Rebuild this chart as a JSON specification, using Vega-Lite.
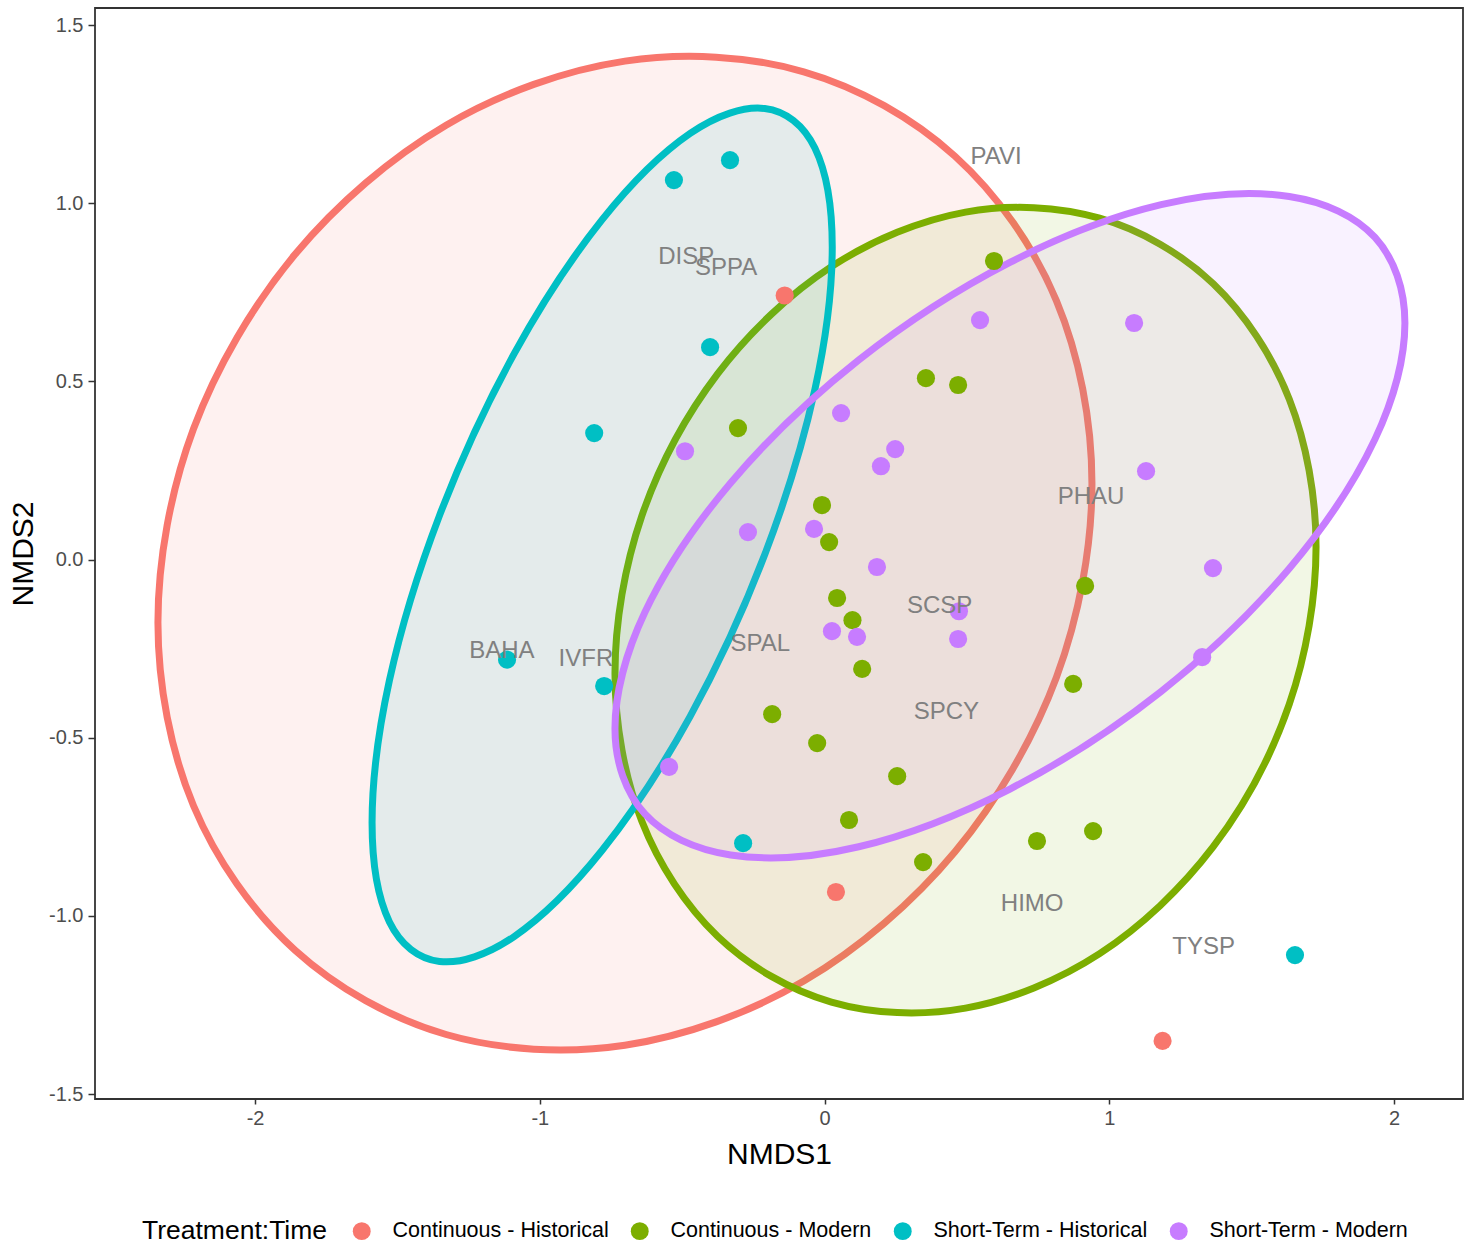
{
  "$schema": "https://vega.github.io/schema/vega-lite/v6.json",
  "autosize": {"type": "none"},
  "padding": {"left": 95, "top": 8, "right": 10, "bottom": 145},
  "width": 1368,
  "height": 1091,
  "background": "white",
  "config": {
    "font": "Liberation Sans",
    "view": {"stroke": "#333333", "strokeWidth": 1.8}
  },
  "datasets": {
    "ell": [
      {"g": "Continuous - Historical", "i": 0, "x": 0.939, "y": 0.213},
      {"g": "Continuous - Historical", "i": 1, "x": 0.814, "y": 0.727},
      {"g": "Continuous - Historical", "i": 2, "x": 0.458, "y": 1.132},
      {"g": "Continuous - Historical", "i": 3, "x": -0.073, "y": 1.369},
      {"g": "Continuous - Historical", "i": 4, "x": -0.701, "y": 1.399},
      {"g": "Continuous - Historical", "i": 5, "x": -1.329, "y": 1.219},
      {"g": "Continuous - Historical", "i": 6, "x": -1.860, "y": 0.856},
      {"g": "Continuous - Historical", "i": 7, "x": -2.216, "y": 0.367},
      {"g": "Continuous - Historical", "i": 8, "x": -2.341, "y": -0.177},
      {"g": "Continuous - Historical", "i": 9, "x": -2.216, "y": -0.691},
      {"g": "Continuous - Historical", "i": 10, "x": -1.860, "y": -1.096},
      {"g": "Continuous - Historical", "i": 11, "x": -1.329, "y": -1.333},
      {"g": "Continuous - Historical", "i": 12, "x": -0.701, "y": -1.363},
      {"g": "Continuous - Historical", "i": 13, "x": -0.073, "y": -1.183},
      {"g": "Continuous - Historical", "i": 14, "x": 0.458, "y": -0.820},
      {"g": "Continuous - Historical", "i": 15, "x": 0.814, "y": -0.331},
      {"g": "Continuous - Modern", "i": 0, "x": 1.726, "y": 0.036},
      {"g": "Continuous - Modern", "i": 1, "x": 1.632, "y": 0.450},
      {"g": "Continuous - Modern", "i": 2, "x": 1.365, "y": 0.774},
      {"g": "Continuous - Modern", "i": 3, "x": 0.966, "y": 0.958},
      {"g": "Continuous - Modern", "i": 4, "x": 0.495, "y": 0.975},
      {"g": "Continuous - Modern", "i": 5, "x": 0.024, "y": 0.822},
      {"g": "Continuous - Modern", "i": 6, "x": -0.375, "y": 0.522},
      {"g": "Continuous - Modern", "i": 7, "x": -0.642, "y": 0.122},
      {"g": "Continuous - Modern", "i": 8, "x": -0.736, "y": -0.320},
      {"g": "Continuous - Modern", "i": 9, "x": -0.642, "y": -0.734},
      {"g": "Continuous - Modern", "i": 10, "x": -0.375, "y": -1.058},
      {"g": "Continuous - Modern", "i": 11, "x": 0.024, "y": -1.242},
      {"g": "Continuous - Modern", "i": 12, "x": 0.495, "y": -1.259},
      {"g": "Continuous - Modern", "i": 13, "x": 0.966, "y": -1.106},
      {"g": "Continuous - Modern", "i": 14, "x": 1.365, "y": -0.806},
      {"g": "Continuous - Modern", "i": 15, "x": 1.632, "y": -0.406},
      {"g": "Short-Term - Historical", "i": 0, "x": 0.027, "y": 0.877},
      {"g": "Short-Term - Historical", "i": 1, "x": -0.034, "y": 1.155},
      {"g": "Short-Term - Historical", "i": 2, "x": -0.210, "y": 1.266},
      {"g": "Short-Term - Historical", "i": 3, "x": -0.472, "y": 1.196},
      {"g": "Short-Term - Historical", "i": 4, "x": -0.781, "y": 0.954},
      {"g": "Short-Term - Historical", "i": 5, "x": -1.090, "y": 0.578},
      {"g": "Short-Term - Historical", "i": 6, "x": -1.352, "y": 0.124},
      {"g": "Short-Term - Historical", "i": 7, "x": -1.528, "y": -0.339},
      {"g": "Short-Term - Historical", "i": 8, "x": -1.589, "y": -0.739},
      {"g": "Short-Term - Historical", "i": 9, "x": -1.528, "y": -1.017},
      {"g": "Short-Term - Historical", "i": 10, "x": -1.352, "y": -1.128},
      {"g": "Short-Term - Historical", "i": 11, "x": -1.090, "y": -1.058},
      {"g": "Short-Term - Historical", "i": 12, "x": -0.781, "y": -0.816},
      {"g": "Short-Term - Historical", "i": 13, "x": -0.472, "y": -0.440},
      {"g": "Short-Term - Historical", "i": 14, "x": -0.210, "y": 0.014},
      {"g": "Short-Term - Historical", "i": 15, "x": -0.034, "y": 0.477},
      {"g": "Short-Term - Modern", "i": 0, "x": 2.038, "y": 0.664},
      {"g": "Short-Term - Modern", "i": 1, "x": 1.933, "y": 0.904},
      {"g": "Short-Term - Modern", "i": 2, "x": 1.632, "y": 1.019},
      {"g": "Short-Term - Modern", "i": 3, "x": 1.182, "y": 0.996},
      {"g": "Short-Term - Modern", "i": 4, "x": 0.651, "y": 0.834},
      {"g": "Short-Term - Modern", "i": 5, "x": 0.120, "y": 0.560},
      {"g": "Short-Term - Modern", "i": 6, "x": -0.330, "y": 0.215},
      {"g": "Short-Term - Modern", "i": 7, "x": -0.631, "y": -0.148},
      {"g": "Short-Term - Modern", "i": 8, "x": -0.736, "y": -0.474},
      {"g": "Short-Term - Modern", "i": 9, "x": -0.631, "y": -0.714},
      {"g": "Short-Term - Modern", "i": 10, "x": -0.330, "y": -0.829},
      {"g": "Short-Term - Modern", "i": 11, "x": 0.120, "y": -0.806},
      {"g": "Short-Term - Modern", "i": 12, "x": 0.651, "y": -0.644},
      {"g": "Short-Term - Modern", "i": 13, "x": 1.182, "y": -0.370},
      {"g": "Short-Term - Modern", "i": 14, "x": 1.632, "y": -0.025},
      {"g": "Short-Term - Modern", "i": 15, "x": 1.933, "y": 0.338}
    ],
    "pts": [
      {"g": "Continuous - Historical", "x": -0.140, "y": 0.741},
      {"g": "Continuous - Historical", "x": 0.040, "y": -0.933},
      {"g": "Continuous - Historical", "x": 1.187, "y": -1.351},
      {"g": "Continuous - Modern", "x": 0.595, "y": 0.838},
      {"g": "Continuous - Modern", "x": 0.356, "y": 0.509},
      {"g": "Continuous - Modern", "x": 0.469, "y": 0.490},
      {"g": "Continuous - Modern", "x": -0.304, "y": 0.369},
      {"g": "Continuous - Modern", "x": -0.009, "y": 0.153},
      {"g": "Continuous - Modern", "x": 0.016, "y": 0.049},
      {"g": "Continuous - Modern", "x": 0.044, "y": -0.108},
      {"g": "Continuous - Modern", "x": 0.098, "y": -0.170},
      {"g": "Continuous - Modern", "x": 0.132, "y": -0.307},
      {"g": "Continuous - Modern", "x": 0.915, "y": -0.074},
      {"g": "Continuous - Modern", "x": 0.873, "y": -0.349},
      {"g": "Continuous - Modern", "x": -0.184, "y": -0.434},
      {"g": "Continuous - Modern", "x": -0.026, "y": -0.515},
      {"g": "Continuous - Modern", "x": 0.255, "y": -0.608},
      {"g": "Continuous - Modern", "x": 0.086, "y": -0.731},
      {"g": "Continuous - Modern", "x": 0.346, "y": -0.849},
      {"g": "Continuous - Modern", "x": 0.746, "y": -0.790},
      {"g": "Continuous - Modern", "x": 0.943, "y": -0.762},
      {"g": "Short-Term - Historical", "x": -0.529, "y": 1.065},
      {"g": "Short-Term - Historical", "x": -0.332, "y": 1.121},
      {"g": "Short-Term - Historical", "x": -0.402, "y": 0.596},
      {"g": "Short-Term - Historical", "x": -0.809, "y": 0.355},
      {"g": "Short-Term - Historical", "x": -1.115, "y": -0.281},
      {"g": "Short-Term - Historical", "x": -0.774, "y": -0.355},
      {"g": "Short-Term - Historical", "x": -0.286, "y": -0.796},
      {"g": "Short-Term - Historical", "x": 1.652, "y": -1.110},
      {"g": "Short-Term - Modern", "x": 0.546, "y": 0.672},
      {"g": "Short-Term - Modern", "x": 1.087, "y": 0.664},
      {"g": "Short-Term - Modern", "x": 0.058, "y": 0.411},
      {"g": "Short-Term - Modern", "x": -0.490, "y": 0.304},
      {"g": "Short-Term - Modern", "x": 0.248, "y": 0.310},
      {"g": "Short-Term - Modern", "x": 0.198, "y": 0.262},
      {"g": "Short-Term - Modern", "x": 1.129, "y": 0.248},
      {"g": "Short-Term - Modern", "x": -0.269, "y": 0.077},
      {"g": "Short-Term - Modern", "x": -0.037, "y": 0.086},
      {"g": "Short-Term - Modern", "x": 0.184, "y": -0.021},
      {"g": "Short-Term - Modern", "x": 1.364, "y": -0.024},
      {"g": "Short-Term - Modern", "x": 0.472, "y": -0.145},
      {"g": "Short-Term - Modern", "x": 0.026, "y": -0.201},
      {"g": "Short-Term - Modern", "x": 0.114, "y": -0.217},
      {"g": "Short-Term - Modern", "x": 0.469, "y": -0.223},
      {"g": "Short-Term - Modern", "x": 1.326, "y": -0.274},
      {"g": "Short-Term - Modern", "x": -0.546, "y": -0.582}
    ],
    "sp": [
      {"sp": "PAVI", "x": 0.602, "y": 1.130},
      {"sp": "DISP", "x": -0.486, "y": 0.848},
      {"sp": "SPPA", "x": -0.346, "y": 0.818},
      {"sp": "PHAU", "x": 0.936, "y": 0.175},
      {"sp": "SCSP", "x": 0.404, "y": -0.129},
      {"sp": "BAHA", "x": -1.133, "y": -0.257},
      {"sp": "IVFR", "x": -0.838, "y": -0.279},
      {"sp": "SPAL", "x": -0.226, "y": -0.237},
      {"sp": "SPCY", "x": 0.428, "y": -0.427},
      {"sp": "HIMO", "x": 0.729, "y": -0.968},
      {"sp": "TYSP", "x": 1.331, "y": -1.086}
    ]
  },
  "encoding": {
    "x": {"field": "x", "type": "quantitative",
      "scale": {"domain": [-2.562, 2.242], "nice": false, "zero": false},
      "axis": {"title": "NMDS1", "values": [-2, -1, 0, 1, 2],
        "labelExpr": "datum.value < 0 ? '-' + format(-datum.value, 'd') : format(datum.value, 'd')",
        "grid": false, "domain": false, "tickSize": 5, "tickColor": "#333333", "tickWidth": 1.5,
        "labelFontSize": 20, "labelColor": "#4D4D4D", "labelPadding": 4,
        "titleFontSize": 30, "titleFontWeight": "normal", "titleColor": "black", "titlePadding": 11}},
    "y": {"field": "y", "type": "quantitative",
      "scale": {"domain": [-1.514, 1.548], "nice": false, "zero": false},
      "axis": {"title": "NMDS2", "values": [-1.5, -1, -0.5, 0, 0.5, 1, 1.5],
        "labelExpr": "datum.value < 0 ? '-' + format(-datum.value, '.1f') : format(datum.value, '.1f')",
        "grid": false, "domain": false, "tickSize": 7, "tickColor": "#333333", "tickWidth": 1.5,
        "labelFontSize": 20, "labelColor": "#4D4D4D", "labelPadding": 5,
        "titleFontSize": 30, "titleFontWeight": "normal", "titleColor": "black", "titlePadding": 10}}
  },
  "layer": [
    {
      "data": {"name": "ell"},
      "transform": [{"filter": "datum.g == 'Continuous - Historical'"}],
      "mark": {"type": "line", "interpolate": "cardinal-closed", "strokeWidth": 7, "stroke": "#F8766D", "fill": "#F8766D", "fillOpacity": 0.1},
      "encoding": {"order": {"field": "i", "type": "quantitative"}}
    },
    {
      "data": {"name": "ell"},
      "transform": [{"filter": "datum.g == 'Continuous - Modern'"}],
      "mark": {"type": "line", "interpolate": "cardinal-closed", "strokeWidth": 7, "stroke": "#7CAE00", "fill": "#7CAE00", "fillOpacity": 0.1},
      "encoding": {"order": {"field": "i", "type": "quantitative"}}
    },
    {
      "data": {"name": "ell"},
      "transform": [{"filter": "datum.g == 'Short-Term - Historical'"}],
      "mark": {"type": "line", "interpolate": "cardinal-closed", "strokeWidth": 7, "stroke": "#00BFC4", "fill": "#00BFC4", "fillOpacity": 0.1},
      "encoding": {"order": {"field": "i", "type": "quantitative"}}
    },
    {
      "data": {"name": "ell"},
      "transform": [{"filter": "datum.g == 'Short-Term - Modern'"}],
      "mark": {"type": "line", "interpolate": "cardinal-closed", "strokeWidth": 7, "stroke": "#C77CFF", "fill": "#C77CFF", "fillOpacity": 0.1},
      "encoding": {"order": {"field": "i", "type": "quantitative"}}
    },
    {
      "data": {"name": "pts"},
      "mark": {"type": "point", "filled": true, "shape": "circle", "size": 330, "opacity": 1},
      "encoding": {
        "color": {"field": "g", "type": "nominal",
          "scale": {"domain": ["Continuous - Historical", "Continuous - Modern", "Short-Term - Historical", "Short-Term - Modern"],
            "range": ["#F8766D", "#7CAE00", "#00BFC4", "#C77CFF"]},
          "legend": {"title": "Treatment:Time", "orient": "none", "legendX": 47, "legendY": 1212,
            "direction": "horizontal", "titleOrient": "left", "titleAngle": 0, "titleBaseline": "middle",
            "titleFontSize": 26.5, "titleFontWeight": "normal", "titleColor": "black", "titlePadding": 23, "titleLimit": 500,
            "labelFontSize": 21.5, "labelColor": "black", "labelOffset": 20, "columnPadding": 20, "labelLimit": 500,
            "symbolSize": 320, "symbolType": "circle", "symbolStrokeWidth": 0, "symbolOpacity": 1}}
      }
    },
    {
      "data": {"name": "sp"},
      "mark": {"type": "text", "fontSize": 24, "color": "#808080", "align": "center", "baseline": "middle"},
      "encoding": {"text": {"field": "sp", "type": "nominal"}}
    }
  ]
}
